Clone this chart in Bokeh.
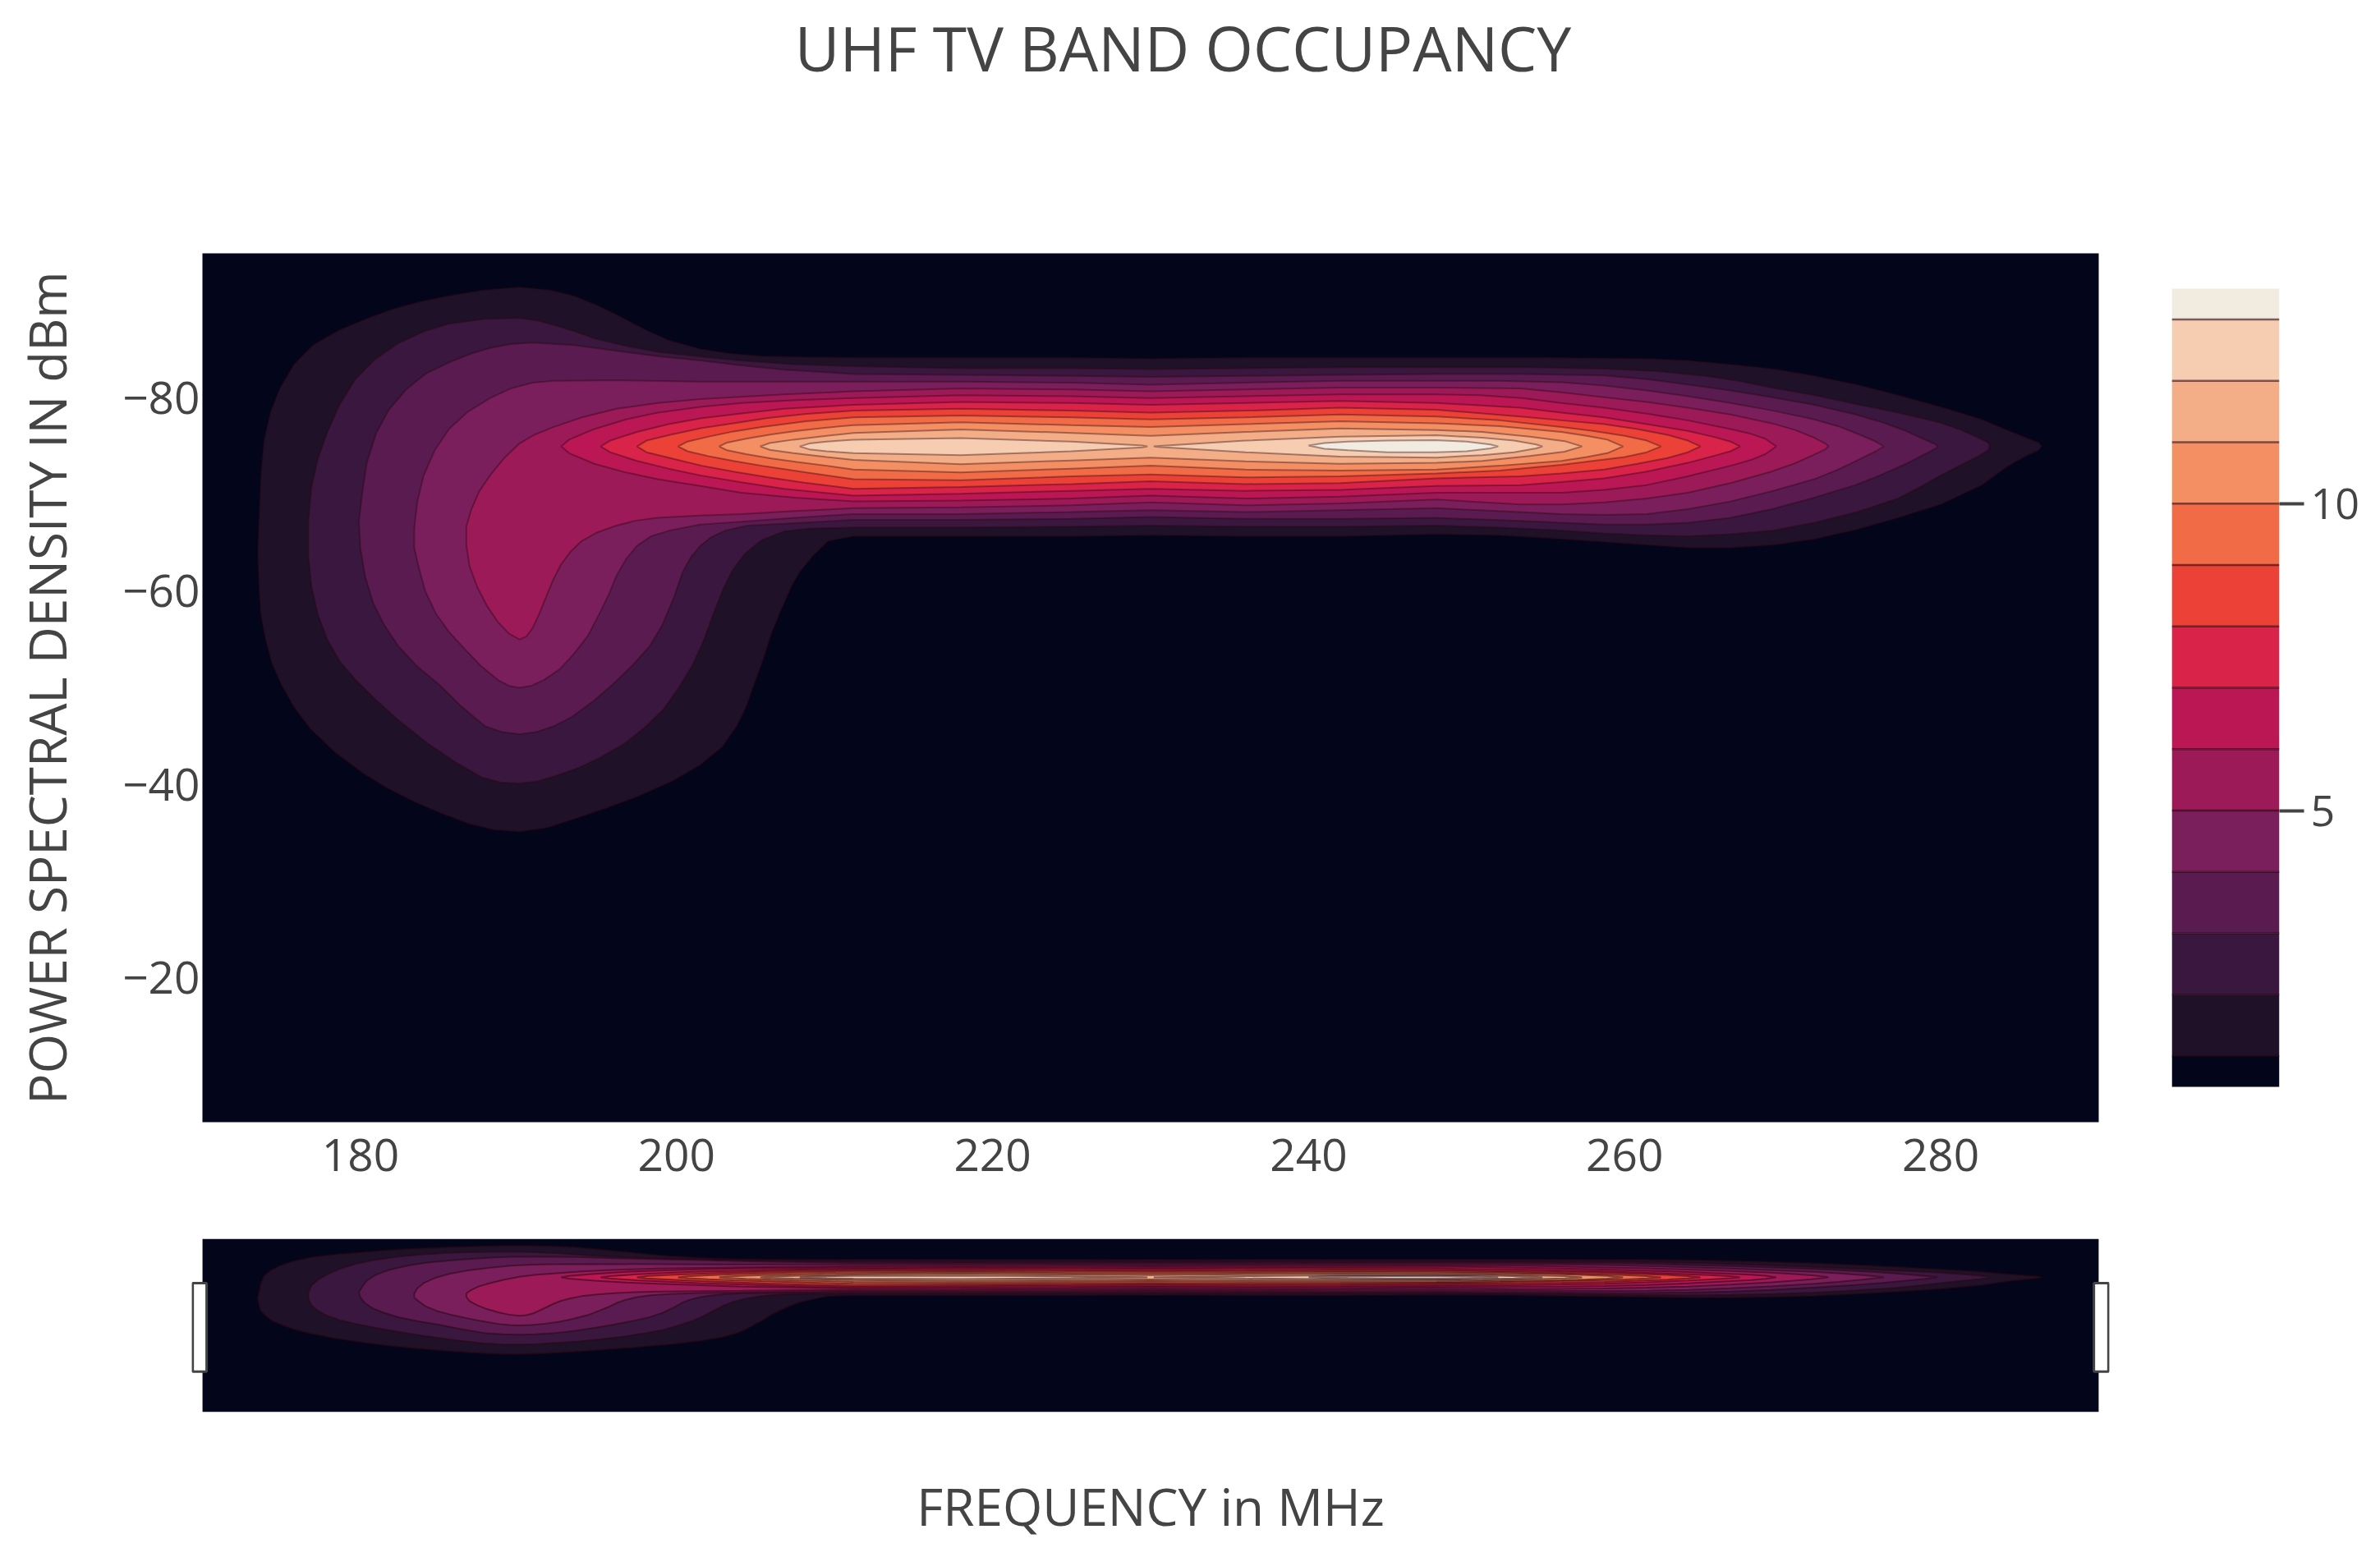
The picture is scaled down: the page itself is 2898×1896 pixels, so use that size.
from bokeh.embed import file_html
from bokeh.resources import INLINE
from bokeh.plotting import figure
from bokeh.layouts import column, row
from bokeh.models import ColumnDataSource, Range1d, FixedTicker, Label

TITLE = "UHF TV BAND OCCUPANCY"
X_LABEL = "FREQUENCY in MHz"
Y_LABEL = "POWER SPECTRAL DENSITY IN dBm"
X_TICKS = [180, 200, 220, 240, 260, 280]
Y_TICKS = [-80, -60, -40, -20]
Y_TICK_TEXT = ["\u221280", "\u221260", "\u221240", "\u221220"]
CB_TICKS = [5, 10]
X_RANGE = (170, 290)
Y_RANGE = (-5, -95)
CB_EDGES = [0.5, 1, 2, 3, 4, 5, 6, 7, 8, 9, 10, 11, 12, 13, 13.5]
BAND_COLORS = ["#03051a", "#1f1228", "#3a173e", "#5a1c50", "#7a1f5c", "#9d1a58", "#bb1755",
               "#d92349", "#ec4137", "#f26b47", "#f48e63", "#f4ae87", "#f6cdb0", "#f1ebe0"]

# Contour outlines: (MHz, dBm) for each level
LEVEL_1 = [(190.06,-91.5),(192,-91.2),(193.5,-90.6),(195,-89.6),(196.5,-88.4),(198,-87.1),(199.5,-86),(201.5,-85.1),(203.5,-84.6),(205.4,-84.35),(208,-84.25),(211.2,-84.2),(218,-84.2),(225,-84.2),(230,-84.1),(236,-84.2),(242,-84.2),(248.1,-84.2),(255,-84.2),(261.4,-84.1),(264,-83.9),(266.7,-83.5),(269.5,-83),(272,-82.3),(274.7,-81.4),(277.3,-80.3),(280,-79.1),(282.6,-77.8),(284.2,-76.7),(285.4,-75.9),(286.2,-75.4),(286.4,-75.05),(286.2,-74.6),(285.4,-74),(284.2,-72.9),(282.6,-71),(280,-69),(277.3,-67.6),(274.7,-66.4),(272,-65.4),(269.5,-64.8),(266.7,-64.5),(264,-64.5),(261.4,-64.8),(256.1,-65.4),(252.1,-65.8),(248.1,-65.9),(242,-65.7),(236,-65.7),(230,-65.8),(225,-65.7),(218,-65.7),(211.2,-65.7),(209.6,-65.2),(208.6,-63.6),(207.8,-62),(207.3,-60.6),(206.6,-58),(206,-55.6),(205.5,-53),(204.9,-50.3),(204.4,-48),(203.8,-46),(202.9,-43.9),(201.5,-42),(199.7,-40.3),(197.5,-38.7),(195.5,-37.5),(193.5,-36.4),(191.8,-35.5),(190.06,-35.1),(188.4,-35.3),(186.9,-35.9),(185.1,-37),(183.4,-38.2),(181.7,-39.6),(180.2,-41.1),(178.4,-43.3),(176.8,-45.8),(175.8,-48),(175,-50.3),(174.4,-52.5),(174,-55),(173.7,-57.5),(173.6,-60),(173.5,-64),(173.6,-68),(173.7,-72),(173.9,-75.6),(174.3,-78.5),(174.9,-81),(175.8,-83.5),(177,-85.5),(178.6,-87),(180.2,-88.1),(182,-89.2),(183.8,-90),(185.6,-90.6),(187.8,-91.2)]
LEVEL_2 = [(190.06,-88.3),(191.3,-88),(192.4,-87.5),(193.6,-86.9),(194.8,-86.2),(196.8,-85.4),(198.8,-84.8),(201.5,-84.3),(204,-83.9),(207.5,-83.5),(211.2,-83.3),(218,-83.1),(225,-83.1),(230,-83),(236,-83.1),(242,-83.2),(248.1,-83.2),(254,-83.2),(258.7,-83.05),(262,-82.8),(265.1,-82.3),(267.2,-81.8),(269.3,-81.1),(272,-80.3),(274.6,-79.4),(277.3,-78.5),(279.9,-77.5),(281.3,-76.7),(282.4,-75.9),(283,-75.4),(283.1,-75),(283,-74.6),(282.4,-74),(281.3,-73.1),(279.9,-71.9),(278.7,-70.8),(277.3,-69.6),(274.7,-68.2),(272,-67.1),(269.4,-66.3),(266.7,-65.9),(264,-65.7),(261.4,-65.8),(258.7,-66),(256,-66.3),(252,-66.6),(248.1,-66.8),(242,-66.7),(236,-66.7),(230,-66.8),(225,-66.7),(218,-66.6),(211.2,-66.6),(208.5,-66.5),(206.8,-66.2),(205.4,-65.3),(204.4,-64),(203.6,-62.3),(203,-60.4),(202.3,-57.5),(201.7,-54.8),(201,-52.3),(200.1,-49.9),(199.2,-47.8),(198,-45.9),(196.7,-44.2),(195.1,-42.7),(193.8,-41.7),(192.4,-40.9),(191.2,-40.3),(190.06,-40.1),(188.9,-40.2),(187.7,-40.7),(186,-42.3),(184.2,-44.3),(182.5,-46.5),(181,-48.7),(179.7,-50.8),(178.7,-52.7),(177.9,-55),(177.3,-57.6),(176.9,-60.5),(176.7,-63.6),(176.7,-67.2),(176.9,-70.8),(177.3,-73.7),(177.9,-76.5),(178.7,-79.4),(179.7,-82),(180.9,-84),(182.4,-85.7),(184,-86.9),(185.6,-87.7),(187.8,-88.2)]
LEVEL_3 = [(190.9,-85.75),(193.5,-85.5),(196.2,-84.9),(199,-84.3),(201.5,-83.9),(204,-83.4),(206.8,-82.95),(211.2,-82.5),(218,-82.4),(225,-82.3),(230,-82.2),(236,-82.3),(242,-82.4),(248.1,-82.5),(253.5,-82.5),(258.7,-82.35),(261.5,-81.95),(264,-81.4),(266.7,-80.8),(269.3,-80.1),(272,-79.3),(274.6,-78.3),(276.3,-77.5),(277.8,-76.6),(279,-75.7),(279.7,-75.2),(279.8,-75),(279.7,-74.8),(279,-74.2),(277.8,-73.2),(276.3,-72.1),(274.6,-71),(272,-69.7),(269.3,-68.5),(266.7,-67.6),(264,-67.1),(261.3,-66.9),(258.7,-66.9),(253.4,-67.3),(248.1,-67.6),(242,-67.5),(236,-67.5),(230,-67.7),(225,-67.5),(218,-67.4),(211.2,-67.4),(206.8,-67),(204.5,-66.8),(203.1,-66.3),(202.2,-65.6),(201.5,-64.7),(200.9,-63.5),(200.4,-62),(199.8,-59.2),(199.1,-56.5),(198.3,-54.3),(197.2,-52.3),(196,-50.4),(194.8,-48.7),(193.4,-47),(192.2,-46),(191.1,-45.4),(190.06,-45.2),(189,-45.4),(187.9,-46),(186.3,-48.2),(185,-50.3),(183.6,-52.2),(182.4,-54.3),(181.5,-56.5),(180.8,-58.8),(180.3,-61.5),(180,-64.4),(179.9,-67.2),(180.1,-70),(180.4,-73.3),(181,-76.4),(181.8,-78.8),(182.9,-80.9),(184.1,-82.5),(185.6,-83.7),(187,-84.6),(188.2,-85.2),(189.5,-85.6)]
LEVEL_4 = [(190.9,-81.6),(192.2,-81.8),(196.2,-81.85),(201.5,-81.7),(206.8,-81.7),(211.2,-81.7),(218,-81.7),(225,-81.6),(230,-81.4),(236,-81.6),(242,-81.8),(248.1,-81.8),(252,-81.8),(256,-81.65),(258.7,-81.3),(261.4,-80.8),(264,-80.2),(266.7,-79.5),(269.4,-78.7),(272,-77.8),(273.5,-77.1),(274.9,-76.2),(275.9,-75.5),(276.4,-75),(275.9,-74.5),(274.9,-73.7),(273.5,-72.6),(272,-71.6),(269.4,-70.4),(266.7,-69.3),(264,-68.5),(261.4,-68),(258.7,-67.9),(256,-68),(252,-68.3),(248.1,-68.6),(242,-68.4),(236,-68.2),(230,-68.4),(225,-68.2),(218,-68),(211.2,-68),(207.5,-67.6),(204.1,-67.2),(201.5,-66.9),(199.6,-66.3),(198.4,-65.7),(197.5,-64.7),(196.8,-63.3),(196.2,-61.6),(195.7,-59.6),(195.1,-57.6),(194.4,-55.4),(193.5,-53.5),(192.6,-51.9),(191.6,-50.8),(190.8,-50.2),(190.06,-50),(189.4,-50.2),(188.7,-50.8),(187.6,-52.3),(186.6,-54),(185.6,-55.8),(184.8,-57.6),(184.1,-60),(183.7,-62.4),(183.4,-64.5),(183.4,-66.5),(183.6,-69.3),(184,-72),(184.7,-74.6),(185.6,-76.8),(186.8,-78.6),(188.2,-80),(189.5,-81)]
LEVEL_5 = [(190.06,-75.3),(191,-76.2),(192.2,-77),(194,-78),(196.2,-78.9),(198.8,-79.5),(201.5,-79.9),(206.8,-80.4),(211.2,-80.7),(218,-81),(225,-80.9),(230,-80.7),(236,-80.9),(242,-81.1),(248.1,-81.1),(253.4,-81),(256,-80.6),(258.7,-80.1),(261.4,-79.6),(264,-79),(266.7,-78.3),(269.3,-77.4),(270.8,-76.7),(272,-75.9),(272.7,-75.3),(272.9,-75),(272.7,-74.7),(271.8,-74),(270.7,-73.2),(269.3,-72.4),(266.7,-71.2),(264,-70.2),(261.4,-69.6),(258.7,-69.2),(256,-69),(253.4,-69),(248.1,-69.5),(242,-69.1),(236,-68.9),(230,-69.2),(225,-68.9),(218,-68.7),(211.2,-68.6),(207.5,-68.3),(204.1,-68),(201.5,-67.85),(198.8,-67.6),(197.4,-67.3),(196.2,-66.8),(195,-66.1),(194,-65.2),(193.3,-64.1),(192.7,-62.8),(192.2,-61.2),(191.8,-59.6),(191.3,-57.6),(190.9,-56.2),(190.5,-55.3),(190.06,-55),(189.4,-55.6),(188.7,-56.8),(188,-58.5),(187.4,-60.4),(186.9,-62.6),(186.7,-64.8),(186.7,-66.7),(187,-68.4),(187.5,-70.3),(188.2,-72),(189.1,-73.8)]
LEVEL_6 = [(192.7,-75),(193.2,-75.7),(194.8,-76.8),(196.8,-77.8),(198.8,-78.5),(201.5,-79.1),(204.1,-79.5),(207.5,-79.8),(211.2,-80),(218,-80.3),(225,-80.2),(230,-80),(236,-80.2),(242,-80.4),(248.1,-80.4),(250.8,-80.3),(253.5,-80),(256,-79.5),(258.7,-79),(261.4,-78.4),(264,-77.7),(266.7,-76.8),(268,-76.3),(268.9,-75.8),(269.6,-75),(268.9,-74.2),(268,-73.6),(266.7,-73),(264,-71.9),(261.4,-71),(258.7,-70.5),(256,-70.2),(250.8,-70.2),(248.1,-70.2),(242,-69.8),(236,-69.6),(230,-69.9),(225,-69.6),(218,-69.4),(211.2,-69.3),(207.5,-69.7),(204.1,-70.2),(201.5,-70.9),(198.8,-71.6),(196.8,-72.3),(194.8,-73.2),(193.2,-74.3)]
LEVEL_7 = [(195.2,-75),(195.8,-75.6),(197.5,-76.5),(199.5,-77.3),(201.5,-77.9),(204,-78.4),(206.8,-78.9),(211.2,-79.3),(218,-79.6),(225,-79.5),(230,-79.3),(236,-79.5),(242,-79.7),(248.1,-79.5),(253.4,-79),(256,-78.5),(258.7,-78),(261.4,-77.3),(264,-76.6),(265.6,-76),(266.7,-75.5),(267.3,-75),(266.7,-74.5),(265.6,-74),(264,-73.3),(261.4,-72.4),(258.7,-71.7),(256,-71.3),(253.4,-71),(248.1,-70.9),(242,-70.5),(236,-70.4),(230,-70.6),(225,-70.4),(218,-70.1),(211.2,-69.9),(206.8,-70.6),(204,-71.3),(201.5,-72),(199.5,-72.7),(197.5,-73.5),(195.8,-74.4)]
LEVEL_8 = [(197.5,-75),(198.1,-75.6),(199.6,-76.2),(201.6,-76.9),(203.6,-77.4),(205.8,-77.95),(208.1,-78.35),(211.2,-78.7),(218,-78.9),(225,-78.7),(230,-78.5),(236,-78.7),(242,-79),(248.1,-78.8),(253.4,-78.1),(256,-77.7),(258.7,-77.3),(260.8,-76.8),(262.7,-76.2),(264,-75.6),(264.8,-75),(264,-74.4),(262.7,-73.8),(260.8,-73.2),(258.7,-72.6),(256,-72.2),(253.4,-71.9),(248.1,-71.7),(242,-71.2),(236,-71.1),(230,-71.4),(225,-71.1),(218,-70.8),(211.2,-70.6),(208.1,-71.25),(205.8,-71.8),(203.6,-72.4),(201.6,-73),(199.6,-73.8),(198.1,-74.4)]
LEVEL_9 = [(200.1,-75),(200.7,-75.5),(202,-76),(203.6,-76.55),(205.4,-77),(208.2,-77.6),(211.2,-78),(218,-78.2),(225,-78),(230,-77.8),(236,-78),(242,-78.3),(248.1,-78.1),(252.1,-77.7),(256,-77),(258,-76.6),(260,-76.1),(261.4,-75.6),(262.3,-75),(261.4,-74.4),(260,-73.9),(258,-73.5),(256,-73.1),(252.1,-72.5),(248.1,-72.2),(242,-71.9),(236,-71.8),(230,-72.1),(225,-71.9),(218,-71.5),(211.2,-71.6),(208.2,-72.3),(205.4,-73),(203.6,-73.5),(202,-74),(200.7,-74.5)]
LEVEL_10 = [(202.7,-75),(203.2,-75.4),(204.4,-75.8),(206,-76.25),(207.6,-76.6),(209.5,-76.95),(211.2,-77.2),(218,-77.5),(225,-77.2),(230,-77),(236,-77.3),(242,-77.6),(248.1,-77.4),(252.1,-77.1),(256,-76.5),(257.6,-76.1),(258.9,-75.7),(259.9,-75),(258.9,-74.3),(257.6,-73.9),(256,-73.5),(252.1,-73),(248.1,-72.6),(242,-72.5),(236,-72.6),(230,-73),(225,-72.7),(218,-72.3),(211.2,-72.6),(209.5,-73),(207.6,-73.4),(206,-73.75),(204.4,-74.2),(203.2,-74.6)]
LEVEL_11 = [(205.3,-75),(205.9,-75.35),(207.4,-75.7),(209.5,-76.1),(211.2,-76.4),(218,-76.75),(225,-76.4),(230,-76.1),(236,-76.5),(242,-76.85),(248.1,-76.7),(251,-76.5),(254,-76),(256.2,-75.55),(257.3,-75),(256.2,-74.45),(254,-74),(251,-73.5),(248.1,-73.3),(242,-73.2),(236,-73.45),(230,-73.85),(225,-73.55),(218,-73.15),(211.2,-73.6),(209.5,-73.9),(207.4,-74.3),(205.9,-74.65)]
LEVEL_12_LEFT = [(207.8,-75),(208.4,-75.3),(209.5,-75.5),(211.2,-75.7),(218,-75.85),(225,-75.5),(229.5,-75.1),(229.8,-75),(229.5,-74.9),(225,-74.5),(218,-74.1),(211.2,-74.3),(209.5,-74.5),(208.4,-74.7)]
LEVEL_12_RIGHT = [(230.2,-75),(236,-75.6),(242,-76),(248.1,-76.15),(251,-75.9),(253,-75.6),(254.4,-75.2),(254.8,-75),(254.4,-74.8),(253,-74.4),(251,-74.1),(248.1,-73.85),(242,-73.95),(236,-74.4),(230.5,-74.95)]
LEVEL_13 = [(240,-75.1),(241,-75.35),(242.5,-75.5),(245,-75.6),(248,-75.65),(250,-75.5),(251.5,-75.2),(252,-75),(251.5,-74.8),(250,-74.5),(248,-74.4),(245,-74.4),(242.5,-74.6),(241,-74.75)]

CONTOURS = [(1, LEVEL_1), (2, LEVEL_2), (3, LEVEL_3), (4, LEVEL_4), (5, LEVEL_5), (6, LEVEL_6), (7, LEVEL_7),
            (8, LEVEL_8), (9, LEVEL_9), (10, LEVEL_10), (11, LEVEL_11), (12, LEVEL_12_LEFT),
            (12, LEVEL_12_RIGHT), (13, LEVEL_13)]

source = ColumnDataSource(dict(
    xs=[[pt[0] for pt in c] for _, c in CONTOURS],
    ys=[[pt[1] for pt in c] for _, c in CONTOURS],
    fill=[BAND_COLORS[lvl] for lvl, _ in CONTOURS],
))

FONT = "Open Sans"
INK = "#444444"
BG = BAND_COLORS[0]
LINE = "#2a0510"

# ----- title strip: labels are clipped to a plot's frame, so the title gets a frame of its own
head = figure(width=2882, height=120, frame_width=2882, frame_height=120,
              min_border_left=0, min_border_right=0, min_border_top=0, min_border_bottom=0,
              x_range=Range1d(0, 2882), y_range=Range1d(120, 0), x_axis_location=None, y_axis_location=None,
              output_backend="svg", toolbar_location=None, outline_line_color=None)
head.grid.visible = False
head.add_layout(Label(x=1207, y=57, text=TITLE, text_align="center", text_baseline="middle",
                      text_font=FONT, text_font_size="75px", text_color=INK))

# ----- main contour
main = figure(width=2599, height=1368, frame_width=2309, frame_height=1058,
              min_border_left=246, min_border_right=44, min_border_top=188, min_border_bottom=122,
              x_range=Range1d(*X_RANGE), y_range=Range1d(*Y_RANGE),
              output_backend="svg", toolbar_location=None, background_fill_color=BG,
              border_fill_color="white", outline_line_color=None)
main.grid.visible = False
main.patches("xs", "ys", source=source, fill_color="fill", line_color=LINE, line_alpha=0.4, line_width=2.0)
ax = main.xaxis[0]
ax.ticker = FixedTicker(ticks=X_TICKS)
ax.axis_line_color = None
ax.major_tick_line_color = None
ax.minor_tick_line_color = None
ax.major_tick_in = 0
ax.major_tick_out = 0
ax.major_label_standoff = 20
ax.major_label_text_font = FONT
ax.major_label_text_font_size = "55px"
ax.major_label_text_color = INK
ay = main.yaxis[0]
ay.ticker = FixedTicker(ticks=Y_TICKS)
ay.major_label_overrides = dict(zip(Y_TICKS, Y_TICK_TEXT))
ay.axis_line_color = None
ay.major_tick_line_color = None
ay.minor_tick_line_color = None
ay.major_tick_in = 0
ay.major_tick_out = 0
ay.major_label_standoff = 3
ay.major_label_text_font = FONT
ay.major_label_text_font_size = "55px"
ay.major_label_text_color = INK
ay.axis_label = Y_LABEL
ay.axis_label_text_font = FONT
ay.axis_label_text_font_size = "62px"
ay.axis_label_text_font_style = "normal"
ay.axis_label_text_color = INK
ay.axis_label_standoff = 47

# ----- colour bar: the frame lines up with the main frame, the bar itself sits inside it
cb = figure(width=283, height=1368, frame_width=131, frame_height=1058,
            min_border_left=45, min_border_right=107, min_border_top=188, min_border_bottom=122,
            x_range=Range1d(0, 1), y_range=Range1d(-0.075, 14.075),
            output_backend="svg", toolbar_location=None, outline_line_color=None, y_axis_location="right")
cb.grid.visible = False
cb.xaxis.visible = False
cb.quad(left=0, right=1, bottom=CB_EDGES[:-1], top=CB_EDGES[1:], fill_color=BAND_COLORS, line_color=None)
cb.segment(x0=0, x1=1, y0=CB_EDGES[1:-1], y1=CB_EDGES[1:-1], line_color=LINE, line_alpha=0.6, line_width=2.5)
cy = cb.yaxis[0]
cy.ticker = FixedTicker(ticks=CB_TICKS)
cy.axis_line_color = None
cy.minor_tick_line_color = None
cy.major_tick_in = 0
cy.major_tick_out = 30
cy.major_tick_line_color = INK
cy.major_tick_line_width = 4
cy.major_label_standoff = 8
cy.major_label_text_font = FONT
cy.major_label_text_font_size = "52px"
cy.major_label_text_color = INK

# ----- range slider (frame widened a little so that the handles can stick out of the dark plot)
rs = figure(width=2882, height=400, frame_width=2335, frame_height=211,
            min_border_left=233, min_border_right=314, min_border_top=20, min_border_bottom=169,
            x_range=Range1d(169.32, 290.68), y_range=Range1d(*Y_RANGE),
            output_backend="svg", toolbar_location=None, background_fill_color="white", outline_line_color=None)
rs.grid.visible = False
rs.yaxis.visible = False
rs.quad(left=X_RANGE[0], right=X_RANGE[1], bottom=Y_RANGE[0], top=Y_RANGE[1], fill_color=BG, line_color=None)
rs.patches("xs", "ys", source=source, fill_color="fill", line_color=LINE, line_alpha=0.55, line_width=2.0)
rs.quad(left=[169.38, 289.7], right=[170.26, 290.62], bottom=[-26, -26], top=[-72, -72],
        fill_color="white", line_color=INK, line_width=3)
rx = rs.xaxis[0]
rx.ticker = FixedTicker(ticks=[])
rx.axis_line_color = None
rx.major_tick_line_color = None
rx.minor_tick_line_color = None
rx.axis_label = X_LABEL
rx.axis_label_text_font = FONT
rx.axis_label_text_font_size = "62px"
rx.axis_label_text_font_style = "normal"
rx.axis_label_text_color = INK
rx.axis_label_standoff = 72

layout = column(head, row(main, cb, spacing=0), rs, spacing=0)
open("out.html", "w").write(file_html(layout, INLINE))
